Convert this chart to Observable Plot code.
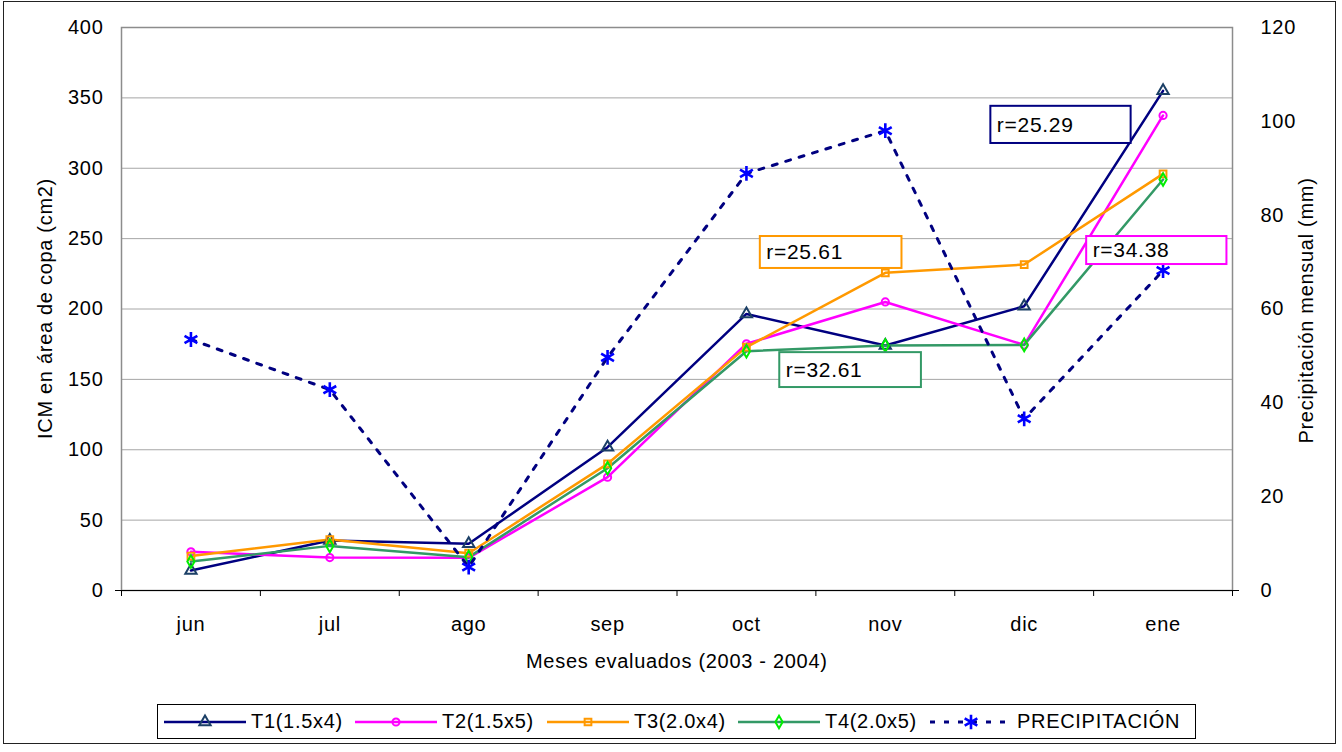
<!DOCTYPE html>
<html>
<head>
<meta charset="utf-8">
<script src="https://cdn.jsdelivr.net/npm/d3@7"></script>
<script src="https://cdn.jsdelivr.net/npm/@observablehq/plot@0.6"></script>
<style>
  html, body { margin: 0; padding: 0; background: #fff; }
  #wrap { position: relative; width: 1342px; height: 752px; font-family: "Liberation Sans", Arial, sans-serif; color: #000; }
  #wrap svg { position: absolute; left: 0; top: 0; }
  .frame { position: absolute; left: 3px; top: 1px; width: 1333px; height: 743px; border: 1.5px solid #222; box-sizing: border-box; }
  .title { position: absolute; font-size: 20px; letter-spacing: 0.7px; white-space: nowrap; }
  .legend { position: absolute; left: 157px; top: 704px; width: 1039px; height: 35px; border: 1px solid #000; box-sizing: border-box; background: #fff; }
  .item { position: absolute; top: 0; height: 33px; display: flex; align-items: center; font-size: 20px; letter-spacing: 0.7px; white-space: nowrap; }
  .item svg { position: static !important; margin-right: 4px; }
</style>
</head>
<body>
<div id="wrap"></div>
<script>
// ---- data ----
const months = ["jun", "jul", "ago", "sep", "oct", "nov", "dic", "ene"];
const t1 = [14.2, 35.5, 33.2, 101.8, 196.5, 174.1, 202.0, 355.0];
const t2 = [27.5, 23.4, 23.2, 80.5, 175.3, 205.0, 174.5, 337.5];
const t3 = [24.5, 36.2, 26.5, 90.0, 172.9, 225.7, 231.6, 296.0];
const t4 = [20.6, 31.7, 23.7, 86.9, 170.0, 174.1, 174.5, 292.0];
const precip = [53.5, 42.8, 5.0, 49.7, 88.9, 98.0, 36.6, 68.2];
const yTicks = [0, 50, 100, 150, 200, 250, 300, 350, 400];
const y2Ticks = [0, 20, 40, 60, 80, 100, 120];
const seriesNames = ["T1(1.5x4)", "T2(1.5x5)", "T3(2.0x4)", "T4(2.0x5)", "PRECIPITACIÓN"];
const rLabels = ["r=25.29", "r=25.61", "r=32.61", "r=34.38"];
// annotation boxes in data units (month index, left-axis value)
const rX1 = [6.26, 4.60, 4.74, 6.95];
const rX2 = [7.27, 5.62, 5.76, 7.96];
const rTop = [344, 251.5, 169, 251.5];
const rBot = [317.6, 228.8, 144.2, 231.6];

const yMax = 400, y2Max = 120;
const toLeft = v => v * yMax / y2Max;
const blank = () => "";

const styles = [
  {stroke: "#000080", mark: "#1b3f66", symbol: "triangle", r: 4.2},
  {stroke: "#ff00ff", mark: "#ff00ff", symbol: "circle", r: 3.6},
  {stroke: "#ff9900", mark: "#ff9900", symbol: "square", r: 3.8},
  {stroke: "#339966", mark: "#00ee00", symbol: "diamond", r: 3.8}
];
const seriesVals = [t1, t2, t3, t4];
const boxColors = ["#000080", "#ff9900", "#339966", "#ff00ff"];

const xi = (d, i) => i + 0.5;
const marks = [
  Plot.ruleY(yTicks.filter(v => v > 0 && v < yMax), {stroke: "#a6a6a6", strokeWidth: 1}),
  Plot.frame({stroke: "#8c8c8c", strokeWidth: 1.5}),
  Plot.ruleY([0], {stroke: "#000", strokeWidth: 1.2}),
  Plot.axisX({ticks: d3.range(0, months.length + 1), tickSize: 6, tickFormat: blank, stroke: "#000"}),
  Plot.axisX({ticks: months.map((m, i) => i + 0.5), tickSize: 0, tickPadding: 26, tickFormat: v => months[Math.round(v - 0.5)]}),
  Plot.axisY({ticks: yTicks, tickSize: 0, tickPadding: 18, tickFormat: d => d, anchor: "left"}),
  Plot.axisY({ticks: [0], tickSize: 6, tickFormat: blank, anchor: "left", stroke: "#000"}),
  Plot.axisY({ticks: y2Ticks.map(toLeft), tickSize: 0, tickPadding: 28, tickFormat: v => Math.round(v * y2Max / yMax), anchor: "right", textAnchor: "start"}),
  Plot.axisY({ticks: [0], tickSize: 6, tickFormat: blank, anchor: "right", stroke: "#000"})
];
seriesVals.forEach((vals, k) => {
  const s = styles[k];
  marks.push(Plot.line(months, {x: xi, y: (d, i) => vals[i], stroke: s.stroke, strokeWidth: 2.5}));
});
seriesVals.forEach((vals, k) => {
  const s = styles[k];
  marks.push(Plot.dot(months, {x: xi, y: (d, i) => vals[i], symbol: s.symbol, r: s.r, stroke: s.mark, strokeWidth: 2, fill: "none"}));
});
marks.push(Plot.line(months, {x: xi, y: (d, i) => toLeft(precip[i]), stroke: "#000080", strokeWidth: 3, strokeDasharray: "5,9"}));
marks.push(Plot.dot(months, {x: xi, y: (d, i) => toLeft(precip[i]), symbol: "asterisk", r: 7, stroke: "#0000ff", strokeWidth: 2.6}));
marks.push(Plot.rect(rLabels, {x1: (d, i) => rX1[i], x2: (d, i) => rX2[i], y1: (d, i) => rBot[i], y2: (d, i) => rTop[i], fill: "#fff", stroke: (d, i) => boxColors[i], strokeWidth: 2}));
marks.push(Plot.text(rLabels, {x: (d, i) => rX1[i], y: (d, i) => (rTop[i] + rBot[i]) / 2, text: d => d, textAnchor: "start", dx: 6, fontSize: 21, fill: "#000"}));

const chart = Plot.plot({
  width: 1342,
  height: 752,
  marginLeft: 121,
  marginRight: 110,
  marginTop: 27,
  marginBottom: 162,
  x: {type: "linear", domain: [0, months.length], axis: null},
  y: {domain: [0, yMax], axis: null},
  style: {fontFamily: "'Liberation Sans', Arial, sans-serif", fontSize: "20px", color: "#000", background: "transparent", overflow: "visible", letterSpacing: "0.7px"},
  marks
});

const wrap = document.getElementById("wrap");
wrap.appendChild(chart);

const frame = document.createElement("div");
frame.className = "frame";
wrap.appendChild(frame);

function addTitle(text, cx, cy, rot) {
  const el = document.createElement("div");
  el.className = "title";
  el.textContent = text;
  wrap.appendChild(el);
  const w = el.offsetWidth, h = el.offsetHeight;
  el.style.left = (cx - w / 2) + "px";
  el.style.top = (cy - h / 2) + "px";
  if (rot) el.style.transform = "rotate(" + rot + "deg)";
}
addTitle("ICM en área de copa (cm2)", 45, 308, -90);
addTitle("Precipitación mensual (mm)", 1306, 310, -90);
addTitle("Meses evaluados (2003 - 2004)", 677, 661, 0);

// legend
const legend = document.createElement("div");
legend.className = "legend";
wrap.appendChild(legend);
const itemLeft = [5, 196, 388, 579, 771];
const symPaths = {
  triangle: d3.symbol(d3.symbolTriangle, 55)(),
  circle: d3.symbol(d3.symbolCircle, 40)(),
  square: d3.symbol(d3.symbolSquare, 45)(),
  diamond: d3.symbol(d3.symbolDiamond, 45)(),
  asterisk: d3.symbol(d3.symbolAsterisk, 150)()
};
seriesNames.forEach((name, k) => {
  const it = document.createElement("div");
  it.className = "item";
  it.style.left = itemLeft[k] + "px";
  const isP = k === 4;
  const lineCol = isP ? "#000080" : styles[k].stroke;
  const mk = isP ? "#0000ff" : styles[k].mark;
  const sym = isP ? symPaths.asterisk : symPaths[styles[k].symbol];
  const dash = isP ? ' stroke-dasharray="5,9"' : "";
  const sw = isP ? 3 : 2.5;
  it.innerHTML = `<svg width="84" height="20" style="overflow:visible"><line x1="1" y1="10" x2="83" y2="10" stroke="${lineCol}" stroke-width="${sw}"${dash}/><path d="${sym}" transform="translate(42,10)" fill="none" stroke="${mk}" stroke-width="${isP ? 2.6 : 2}"/></svg><span>${name}</span>`;
  legend.appendChild(it);
});
</script>
</body>
</html>
